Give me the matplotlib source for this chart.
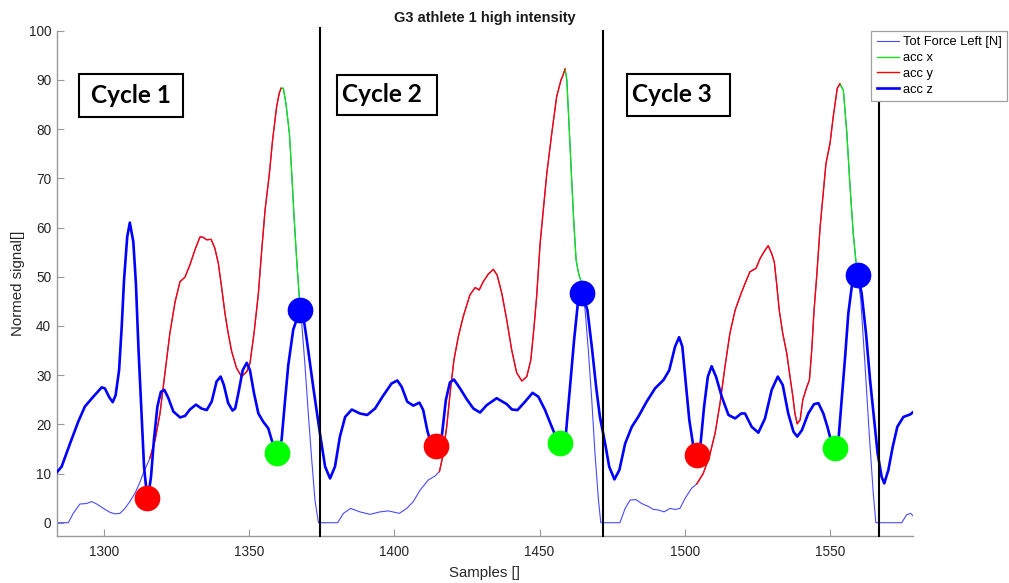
import numpy as np
import matplotlib
matplotlib.use("Agg")
import matplotlib.pyplot as plt
from matplotlib.patches import Rectangle

plt.rcParams['font.family'] = ['Liberation Sans', 'DejaVu Sans']

# ---------------- data ----------------
force_samples = [1283.6, 1287.6, 1289.3, 1291.6, 1293.9, 1295.6, 1297.4, 1299.7, 1302.0, 1303.7,
                 1305.4, 1307.1, 1308.8, 1310.6, 1312.1, 1313.4, 1315.7, 1317.5, 1319.2, 1320.9,
                 1322.6, 1324.4, 1326.1, 1327.8, 1329.5, 1331.2, 1333.0, 1334.1, 1335.3, 1336.8,
                 1338.1, 1339.3, 1340.4, 1341.6, 1342.7, 1343.9, 1345.6, 1347.3, 1349.1, 1350.2,
                 1351.6, 1353.1, 1354.2, 1355.4, 1356.9, 1358.0, 1359.4, 1360.3, 1360.9, 1361.7,
                 1362.6, 1363.8, 1364.6, 1365.4, 1366.3, 1367.2, 1368.0, 1369.2, 1370.3, 1371.5,
                 1372.6, 1373.8, 1380.4, 1382.4, 1384.9, 1388.1, 1391.6, 1395.0, 1397.9, 1401.7,
                 1404.2, 1406.5, 1408.8, 1411.7, 1414.0, 1415.5, 1416.6, 1418.0, 1419.4, 1420.5,
                 1422.0, 1423.7, 1426.0, 1427.8, 1429.2, 1430.6, 1432.3, 1434.1, 1435.4, 1437.0,
                 1438.7, 1440.4, 1442.1, 1443.9, 1445.6, 1447.0, 1448.1, 1449.0, 1450.2, 1451.3,
                 1452.5, 1454.2, 1455.9, 1457.4, 1458.0, 1458.8, 1459.4, 1460.3, 1461.1, 1461.9,
                 1462.6, 1463.5, 1464.2, 1465.7, 1466.8, 1468.0, 1469.1, 1470.3, 1471.1, 1477.7,
                 1479.5, 1481.2, 1483.2, 1485.2, 1487.5, 1489.2, 1490.9, 1492.9, 1495.0, 1496.7,
                 1498.4, 1500.1, 1502.4, 1504.2, 1506.4, 1508.5, 1510.5, 1512.2, 1513.9, 1515.6,
                 1517.4, 1519.4, 1520.8, 1522.5, 1524.6, 1526.0, 1527.4, 1528.8, 1530.0, 1530.9,
                 1531.7, 1532.6, 1533.8, 1535.2, 1536.3, 1537.3, 1538.0, 1538.8, 1539.8, 1540.7,
                 1542.1, 1543.0, 1543.8, 1544.6, 1545.5, 1546.7, 1547.6, 1548.7, 1550.1, 1551.2,
                 1552.6, 1553.5, 1554.7, 1555.9, 1557.0, 1558.1, 1559.1, 1560.7, 1562.2, 1563.6,
                 1565.0, 1565.9, 1574.8, 1576.5, 1577.9, 1579.0]
force_values = [0.0, 0.0, 1.9, 3.8, 3.9, 4.3, 3.8, 2.9, 2.1, 1.8,
                1.9, 2.9, 4.3, 6.0, 8.0, 10.0, 13.1, 16.8, 22.2, 30.4,
                38.5, 44.9, 49.0, 49.9, 52.4, 55.4, 58.1, 58.0, 57.5, 57.6,
                55.8, 52.7, 48.0, 42.5, 38.5, 34.8, 31.4, 29.7, 30.7, 32.4,
                38.5, 46.6, 55.0, 63.5, 71.0, 77.8, 84.6, 87.3, 88.3, 88.3,
                85.2, 79.1, 71.0, 62.2, 53.4, 45.9, 40.9, 31.7, 22.2, 12.7,
                4.6, 0.0, 0.0, 1.9, 2.9, 2.2, 1.7, 2.2, 2.4, 1.9,
                2.9, 4.3, 6.6, 8.7, 9.5, 10.4, 13.4, 19.5, 27.6, 33.1,
                37.8, 41.9, 46.3, 47.8, 47.3, 49.0, 50.5, 51.5, 50.3, 46.6,
                41.2, 35.1, 30.5, 28.8, 29.7, 33.1, 39.8, 46.0, 56.8, 63.6,
                71.0, 79.1, 86.6, 90.0, 90.8, 92.2, 90.0, 79.1, 69.0, 60.0,
                53.4, 50.5, 49.3, 43.2, 35.1, 24.9, 14.1, 4.6, 0.0, 0.0,
                2.9, 4.6, 4.7, 3.9, 3.3, 2.7, 2.6, 2.2, 2.9, 2.7,
                2.9, 4.9, 7.0, 7.9, 10.0, 13.4, 18.2, 24.3, 31.7, 38.5,
                43.2, 46.5, 48.6, 51.0, 51.7, 53.7, 55.1, 56.3, 54.7, 53.0,
                48.6, 43.2, 38.5, 34.4, 29.7, 25.6, 22.2, 20.1, 20.9, 24.9,
                27.6, 29.0, 35.1, 43.2, 50.0, 60.2, 66.0, 73.0, 77.1, 82.5,
                88.3, 89.2, 87.9, 79.1, 68.3, 58.8, 52.7, 45.3, 31.7, 18.2,
                6.0, 0.0, 0.0, 1.6, 1.9, 1.2]

accz_samples = [1283.6, 1285.3, 1288.2, 1291.0, 1293.3, 1296.2, 1299.1, 1300.2, 1301.7, 1302.9,
                1303.9, 1305.1, 1306.0, 1306.8, 1307.9, 1308.8, 1310.0, 1310.9, 1311.8, 1312.9,
                1313.7, 1314.4, 1314.9, 1315.4, 1316.1, 1317.1, 1318.3, 1319.5, 1320.7, 1322.1,
                1323.8, 1326.1, 1327.8, 1329.5, 1331.6, 1333.5, 1335.3, 1337.0, 1338.7, 1340.1,
                1341.2, 1342.7, 1344.2, 1345.1, 1346.2, 1347.7, 1349.1, 1350.2, 1351.6, 1353.1,
                1354.8, 1356.5, 1357.7, 1359.5, 1361.1, 1362.3, 1363.4, 1365.1, 1367.4, 1368.6,
                1369.8, 1372.0, 1374.3, 1376.1, 1377.8, 1379.5, 1381.2, 1383.0, 1385.3, 1388.1,
                1390.6, 1393.3, 1396.2, 1399.0, 1401.0, 1402.5, 1404.4, 1406.5, 1408.6, 1409.9,
                1411.3, 1412.6, 1414.6, 1416.3, 1417.7, 1419.1, 1420.5, 1422.6, 1424.9, 1427.2,
                1429.5, 1431.8, 1435.2, 1438.7, 1440.5, 1442.4, 1445.0, 1447.6, 1449.6, 1451.9,
                1454.2, 1455.6, 1457.1, 1458.4, 1459.1, 1460.5, 1461.9, 1463.2, 1464.6, 1466.5,
                1468.0, 1469.5, 1470.8, 1472.6, 1474.0, 1475.8, 1477.5, 1479.5, 1481.8, 1484.0,
                1486.9, 1489.8, 1492.7, 1494.7, 1496.7, 1498.1, 1499.2, 1500.5, 1501.6, 1503.0,
                1504.4, 1505.5, 1506.7, 1508.0, 1509.3, 1510.8, 1512.8, 1515.1, 1517.4, 1519.5,
                1520.8, 1523.1, 1525.4, 1527.7, 1530.0, 1532.1, 1533.8, 1535.7, 1537.5, 1538.8,
                1540.4, 1542.6, 1544.6, 1546.1, 1547.8, 1549.2, 1550.5, 1551.7, 1553.1, 1554.1,
                1555.3, 1556.4, 1557.6, 1559.7, 1561.0, 1562.5, 1563.9, 1565.3, 1566.5, 1567.9,
                1568.8, 1570.2, 1571.7, 1573.3, 1575.4, 1577.7, 1579.0]
accz_values = [10.2, 11.4, 16.1, 20.5, 23.6, 25.6, 27.5, 27.3, 25.5, 24.5,
               25.9, 31.0, 39.8, 49.3, 58.1, 61.0, 57.1, 48.6, 35.1, 21.5,
               11.4, 7.3, 5.5, 6.5, 9.3, 16.8, 23.6, 26.6, 27.0, 25.3,
               22.6, 21.4, 21.7, 23.0, 24.0, 23.2, 22.9, 24.6, 28.7, 29.7,
               28.0, 24.3, 22.8, 23.2, 26.3, 31.0, 32.5, 31.0, 26.3, 22.2,
               20.5, 19.2, 16.8, 14.2, 16.8, 24.9, 32.0, 39.2, 43.2, 41.9,
               37.1, 27.6, 18.2, 11.4, 9.0, 11.4, 17.5, 21.5, 23.0, 22.2,
               21.9, 23.2, 25.9, 28.3, 28.9, 27.6, 24.6, 23.8, 24.4, 22.9,
               18.8, 16.0, 14.8, 17.5, 24.9, 28.5, 29.1, 27.3, 25.1, 23.2,
               22.4, 23.9, 25.3, 24.1, 23.0, 22.9, 24.6, 26.4, 25.6, 22.9,
               19.5, 17.5, 15.6, 17.0, 18.2, 27.6, 37.1, 44.6, 46.7, 43.2,
               35.8, 27.6, 21.5, 16.1, 11.4, 8.8, 10.7, 16.1, 19.5, 21.5,
               24.6, 27.3, 29.0, 31.0, 35.8, 37.7, 35.8, 27.6, 20.9, 15.5,
               13.0, 16.1, 23.6, 29.7, 31.8, 29.7, 25.6, 21.9, 21.2, 22.2,
               22.2, 19.5, 18.3, 21.2, 27.0, 29.7, 28.0, 22.2, 18.5, 17.5,
               18.8, 22.2, 24.1, 24.3, 22.2, 19.5, 16.5, 14.8, 17.5, 24.9,
               33.7, 42.5, 48.0, 50.3, 46.6, 38.5, 29.0, 20.9, 14.1, 9.3,
               8.0, 10.7, 15.4, 19.5, 21.5, 22.0, 22.6]

# sample ranges of the force curve shown as acc y (rise) and acc x (fall)
acc_y_ranges = [(1315.5, 1361.0), (1415.0, 1458.8), (1504.0, 1553.5)]
acc_x_ranges = [(1360.9, 1367.4), (1458.8, 1464.6), (1553.5, 1559.6)]

red_dot_s = [1314.7, 1414.4, 1504.4]
red_dot_v = [5.1, 15.6, 13.7]
green_dot_s = [1359.6, 1457.1, 1551.7]
green_dot_v = [14.2, 16.1, 15.1]
blue_dot_s = [1367.4, 1464.6, 1559.6]
blue_dot_v = [43.2, 46.7, 50.4]

cycle_bounds = [1374.4, 1471.8, 1567.1]
bound_tops = [100.5, 100.0, 85.3]
cycle_labels = ["Cycle 1", "Cycle 2", "Cycle 3"]

x_ticks = [1300, 1350, 1400, 1450, 1500, 1550]
y_ticks = [0, 10, 20, 30, 40, 50, 60, 70, 80, 90, 100]

# ---------------- figure ----------------
W, H = 1009, 583
fig = plt.figure(figsize=(W / 100, H / 100), dpi=100)
ax = fig.add_axes([56.7 / W, 1 - 535.7 / H, (913.3 - 56.7) / W, (535.7 - 30.7) / H])

fs = np.array(force_samples)
fv = np.array(force_values)


def segments(ranges):
    xs, ys = [], []
    for a, b in ranges:
        m = (fs >= a) & (fs <= b)
        xs.extend(list(fs[m]) + [np.nan])
        ys.extend(list(fv[m]) + [np.nan])
    return xs, ys


ax.plot(fs, fv, color='#4a4aff', lw=0.8, label='Tot Force Left [N]', zorder=2)
gx, gy = segments(acc_x_ranges)
ax.plot(gx, gy, color='#00ee00', lw=0.9, label='acc x', zorder=3)
rx, ry = segments(acc_y_ranges)
ax.plot(rx, ry, color='#ff0000', lw=1.0, label='acc y', zorder=3)
ax.plot(accz_samples, accz_values, color='#0000ff', lw=1.9, label='acc z', zorder=4,
        solid_joinstyle='round')

ax.plot(red_dot_s, red_dot_v, 'o', color='#ff0000', ms=18.5, mec='none', zorder=6)
ax.plot(green_dot_s, green_dot_v, 'o', color='#00ff00', ms=18.5, mec='none', zorder=6)
ax.plot(blue_dot_s, blue_dot_v, 'o', color='#0000ff', ms=18.5, mec='none', zorder=6)

ymin = -2.64
for xb, top in zip(cycle_bounds, bound_tops):
    ax.plot([xb, xb], [ymin, top], color='black', lw=1.5, clip_on=False, zorder=5)

ax.set_xlim(1283.6, 1578.8)
ax.set_ylim(ymin, 100)
ax.set_xticks(x_ticks)
ax.set_yticks(y_ticks)

for side in ['top', 'right']:
    ax.spines[side].set_visible(False)
for side in ['left', 'bottom']:
    ax.spines[side].set_color('#9a9a9a')
    ax.spines[side].set_linewidth(1.0)
ax.tick_params(direction='in', length=5, width=0.8, color='#9a9a9a',
               labelcolor='#262626', labelsize=9.8)
ax.tick_params(axis='y', pad=4)
ax.tick_params(axis='x', pad=6.5)

ax.set_xlabel('Samples []', fontsize=10.8, color='#262626', labelpad=5)
ax.set_ylabel('Normed signal[]', fontsize=10.8, color='#262626', labelpad=2.5)
ax.set_title('G3 athlete 1 high intensity', fontsize=10.5, fontweight='bold',
             color='#1a1a1a', pad=6.5)

leg = fig.legend(loc='upper right', bbox_to_anchor=(1007.3 / W, 1 - 30.7 / H),
                 fontsize=9.3, frameon=True, fancybox=False, framealpha=1,
                 edgecolor='#a0a0a0', borderpad=0.42, labelspacing=0.3,
                 handlelength=1.75, handletextpad=0.3, borderaxespad=0)
leg.get_frame().set_linewidth(0.9)

# Cycle label boxes (figure pixel coordinates)
boxes = [(79, 74, 183, 117, 90.7, 102.7),
         (336.7, 75, 436.7, 115, 341.7, 101.5),
         (626.7, 74, 730, 116, 632.3, 101.5)]
for label, (x0, y0, x1, y1, tx, ty) in zip(cycle_labels, boxes):
    fig.patches.append(Rectangle((x0 / W, 1 - y1 / H), (x1 - x0) / W, (y1 - y0) / H,
                                 transform=fig.transFigure, fill=True, facecolor='white',
                                 edgecolor='black', lw=1.5, zorder=10))
    fig.text(tx / W, 1 - ty / H, label, fontsize=17.6, fontweight='bold',
             family=['Lato', 'DejaVu Sans'], ha='left', va='baseline', color='black',
             zorder=11)

fig.savefig('out.png', dpi=100)
